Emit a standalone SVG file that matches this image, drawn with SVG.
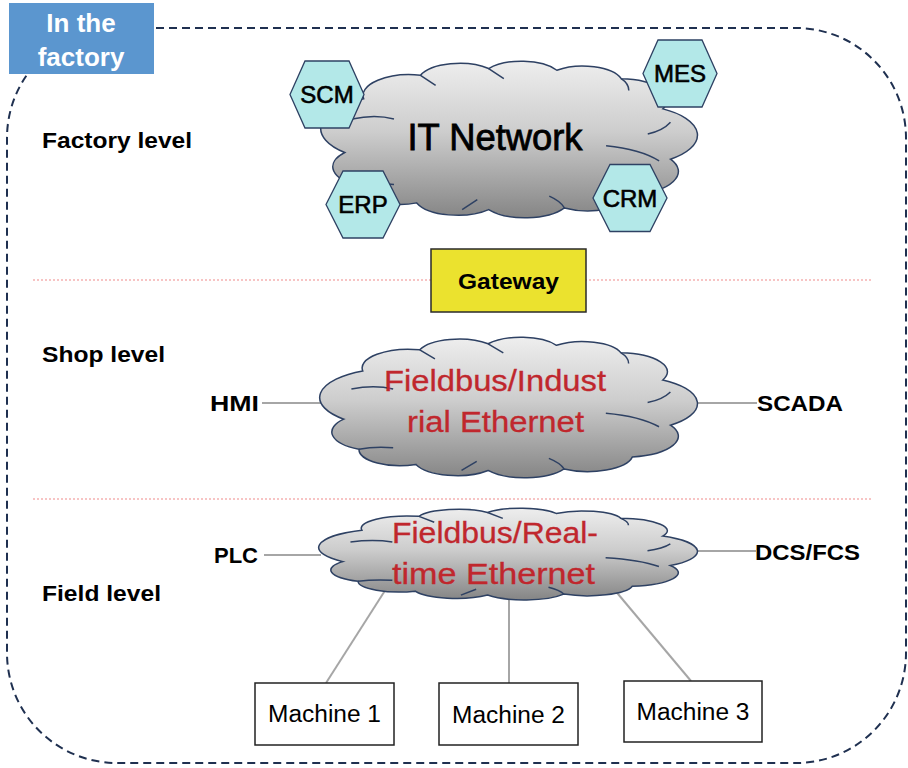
<svg xmlns="http://www.w3.org/2000/svg" xmlns:xlink="http://www.w3.org/1999/xlink" width="908" height="768" viewBox="0 0 908 768">
<style>
.lbl{font-family:"Liberation Sans",Arial,sans-serif;font-weight:bold;font-size:22px;fill:#000}
.hex{fill:#b3e8e8;stroke:#2e4163;stroke-width:1.3}
.hext{font-family:"Liberation Sans",Arial,sans-serif;font-size:24px;fill:#000;stroke:#000;stroke-width:0.6;text-anchor:middle}
.red{font-family:"Liberation Sans",Arial,sans-serif;font-size:29px;fill:#c0272d;stroke:#c0272d;stroke-width:0.3;text-anchor:middle}
.mach{fill:#fff;stroke:#222;stroke-width:1.5}
.macht{font-family:"Liberation Sans",Arial,sans-serif;font-size:23px;fill:#000;text-anchor:middle}
.conn{stroke:#a6a6a6;stroke-width:2;fill:none}
.sep{stroke:#f08a8a;stroke-width:1.2;stroke-dasharray:2 2;fill:none}
</style>
<defs>
<linearGradient id="cg" x1="0" y1="0" x2="0" y2="1">
<stop offset="0" stop-color="#eeeeee"/>
<stop offset="0.45" stop-color="#cdcdcd"/>
<stop offset="1" stop-color="#858585"/>
</linearGradient>
<symbol id="cloud" viewBox="1 3.5 99 93.5" preserveAspectRatio="none" style="overflow:visible">
<path d="M7,58 A19.4,19.4 0 0 1 12,26 A12.3,12.3 0 0 1 27,12 A11,11 0 0 1 45,8 A10.8,10.8 0 0 1 63,9 A10.6,10.6 0 0 1 80,14 A12.6,12.6 0 0 1 91,32 A18,18 0 0 1 93,62 A13.8,13.8 0 0 1 83,83 A12,12 0 0 1 65,91 A12,12 0 0 1 45,92 A11.6,11.6 0 0 1 26,88 A10.8,10.8 0 0 1 11,78 A12.9,12.9 0 0 1 7,58 Z" fill="url(#cg)" stroke="#2e4163" stroke-width="1.5" vector-effect="non-scaling-stroke"/>
<path d="M9,38 Q15,35 20,38 M27,12 Q29,15 31,18 M45,8 Q47,11 49,14 M80,14 Q82,17 82,21 M93,40 Q91,45 87,47 M76,54 Q85,56 90,63 M65,91 Q64,87 61,84 M38,92 Q40,89 42,86 M11,78 Q15,76 20,77" fill="none" stroke="#2e4163" stroke-width="1.5" vector-effect="non-scaling-stroke"/>
</symbol>
</defs>
<rect width="908" height="768" fill="#fff"/>
<g id="frame">
<rect x="7" y="28" width="899" height="735" rx="110" ry="110" fill="none" stroke="#1f3050" stroke-width="2" stroke-dasharray="8 5"/>
<rect x="9" y="3" width="145" height="71" fill="#5b96cf"/>
<text x="81" y="32" font-family="Liberation Sans,Arial,sans-serif" font-weight="bold" font-size="26" fill="#fff" text-anchor="middle">In the</text>
<text x="81" y="66" font-family="Liberation Sans,Arial,sans-serif" font-weight="bold" font-size="26" fill="#fff" text-anchor="middle">factory</text>
</g>
<g id="levels">
<line class="sep" x1="33" y1="280" x2="873" y2="280"/>
<line class="sep" x1="33" y1="499" x2="873" y2="499"/>
<text class="lbl" x="42" y="148" textLength="150" lengthAdjust="spacingAndGlyphs">Factory level</text>
<text class="lbl" x="42" y="362" textLength="123" lengthAdjust="spacingAndGlyphs">Shop level</text>
<text class="lbl" x="42" y="601" textLength="119" lengthAdjust="spacingAndGlyphs">Field level</text>
</g>
<g id="connectors">
<line class="conn" x1="262" y1="403" x2="322" y2="403"/>
<line class="conn" x1="696" y1="403" x2="757" y2="403"/>
<line class="conn" x1="264" y1="555" x2="321" y2="555"/>
<line class="conn" x1="696" y1="551" x2="756" y2="551"/>
<line class="conn" x1="386" y1="589" x2="326" y2="683"/>
<line class="conn" x1="509" y1="600" x2="509" y2="683"/>
<line class="conn" x1="613" y1="588" x2="691" y2="681"/>
</g>
<g id="it-network">
<use xlink:href="#cloud" href="#cloud" x="322" y="61" width="375" height="157"/>
<text x="495" y="150" font-family="Liberation Sans,Arial,sans-serif" font-size="36" fill="#000" stroke="#000" stroke-width="0.8" text-anchor="middle" textLength="175" lengthAdjust="spacingAndGlyphs">IT Network</text>
</g>
<g id="scm" transform="translate(327,94.5)">
<polygon class="hex" points="-37,0 -22,-33.5 22,-33.5 37,0 22,33.5 -22,33.5"/>
<text class="hext" x="0" y="8.5">SCM</text>
</g>
<g id="mes" transform="translate(680,73.5)">
<polygon class="hex" points="-37,0 -22,-33.5 22,-33.5 37,0 22,33.5 -22,33.5"/>
<text class="hext" x="0" y="8.5">MES</text>
</g>
<g id="erp" transform="translate(363,204.5)">
<polygon class="hex" points="-37,0 -20,-33.5 20,-33.5 37,0 20,33.5 -20,33.5"/>
<text class="hext" x="0" y="8.5">ERP</text>
</g>
<g id="crm" transform="translate(630,198)">
<polygon class="hex" points="-37,0 -20,-33.5 20,-33.5 37,0 20,33.5 -20,33.5"/>
<text class="hext" x="0" y="8.5">CRM</text>
</g>
<g id="gateway">
<rect x="431" y="249" width="155" height="63" fill="#ebe22e" stroke="#2a2a2a" stroke-width="1.5"/>
<text class="lbl" x="508.5" y="289" text-anchor="middle" textLength="101" lengthAdjust="spacingAndGlyphs">Gateway</text>
</g>
<g id="shop-network">
<use xlink:href="#cloud" href="#cloud" x="321" y="337" width="376" height="141"/>
<text class="red" x="495" y="391" textLength="222" lengthAdjust="spacingAndGlyphs">Fieldbus/Indust</text>
<text class="red" x="495.5" y="432" textLength="177" lengthAdjust="spacingAndGlyphs">rial Ethernet</text>
</g>
<g id="hmi"><text class="lbl" x="210" y="411" textLength="49" lengthAdjust="spacingAndGlyphs">HMI</text></g>
<g id="scada"><text class="lbl" x="757" y="411" textLength="86" lengthAdjust="spacingAndGlyphs">SCADA</text></g>
<g id="field-network">
<use xlink:href="#cloud" href="#cloud" x="320" y="508" width="377" height="92"/>
<text class="red" x="495" y="543" textLength="206" lengthAdjust="spacingAndGlyphs">Fieldbus/Real-</text>
<text class="red" x="493.5" y="584" textLength="203" lengthAdjust="spacingAndGlyphs">time Ethernet</text>
</g>
<g id="plc"><text class="lbl" x="214" y="563" textLength="44" lengthAdjust="spacingAndGlyphs">PLC</text></g>
<g id="dcs"><text class="lbl" x="755" y="560" textLength="105" lengthAdjust="spacingAndGlyphs">DCS/FCS</text></g>
<g id="machine1">
<rect class="mach" x="255" y="683" width="139" height="62"/>
<text class="macht" x="324.5" y="722" textLength="113" lengthAdjust="spacingAndGlyphs">Machine 1</text>
</g>
<g id="machine2">
<rect class="mach" x="439" y="683" width="139" height="62"/>
<text class="macht" x="508.5" y="723" textLength="113" lengthAdjust="spacingAndGlyphs">Machine 2</text>
</g>
<g id="machine3">
<rect class="mach" x="624" y="681" width="138" height="61"/>
<text class="macht" x="693" y="720" textLength="113" lengthAdjust="spacingAndGlyphs">Machine 3</text>
</g>
</svg>
